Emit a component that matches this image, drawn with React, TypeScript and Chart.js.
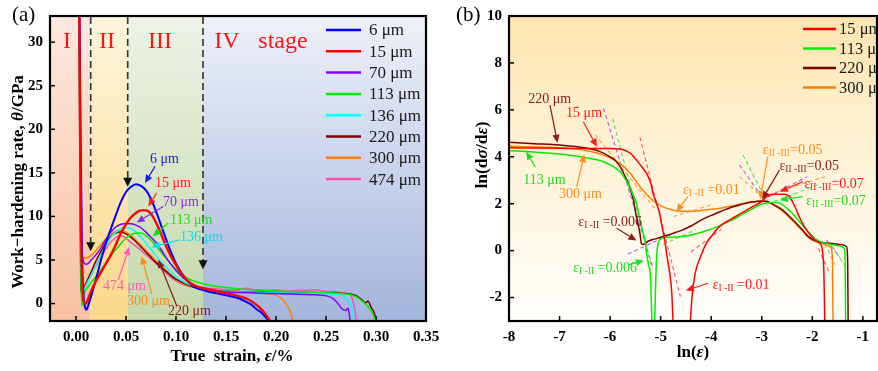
import { useEffect, useRef } from "react";
import { Chart, registerables } from "chart.js";

Chart.register(...registerables);

const SERIF = '"Liberation Serif", "Times New Roman", Times, serif';

type Pt = [number, number];

// ---------- Panel (a): work-hardening rate θ (GPa) vs true strain ----------
const theta6um: Pt[] = [
  [0.003, 40], [0.0045, 20], [0.006, 6], [0.0075, 1], [0.009, -0.4], [0.0105, -0.7], [0.012, -0.3],
  [0.015, 0.8], [0.02, 2.8], [0.025, 5], [0.03, 7], [0.035, 8.6], [0.04, 10.2], [0.045, 11.7],
  [0.05, 12.8], [0.055, 13.4], [0.06, 13.7], [0.065, 13.5], [0.07, 13.0], [0.075, 12.0], [0.08, 10.6],
  [0.085, 9.0], [0.09, 7.4], [0.095, 5.9], [0.1, 4.6], [0.105, 3.6], [0.11, 2.8], [0.115, 2.2],
  [0.12, 1.8], [0.13, 1.45], [0.14, 1.2], [0.15, 0.95], [0.16, 0.7], [0.165, 0.5], [0.17, 0.2],
  [0.175, -0.1], [0.18, -0.6], [0.185, -1.0], [0.19, -1.6], [0.195, -2.3],
];
const theta15um: Pt[] = [
  [0.003, 40], [0.0042, 18], [0.0055, 5], [0.007, 0.9], [0.0085, 0.05], [0.01, 0], [0.012, 0.5],
  [0.015, 1.4], [0.02, 2.6], [0.025, 3.6], [0.03, 4.6], [0.035, 5.6], [0.04, 6.8], [0.045, 8.1],
  [0.05, 9.1], [0.055, 9.9], [0.06, 10.4], [0.065, 10.7], [0.07, 10.7], [0.075, 10.3], [0.08, 9.3],
  [0.085, 8.0], [0.09, 6.6], [0.095, 5.4], [0.1, 4.4], [0.105, 3.5], [0.11, 2.8], [0.115, 2.3],
  [0.12, 2.0], [0.13, 1.7], [0.14, 1.45], [0.15, 1.2], [0.16, 0.95], [0.17, 0.6], [0.175, 0.3],
  [0.18, -0.1], [0.185, -0.6], [0.19, -1.3], [0.196, -2.3],
];
const theta70um: Pt[] = [
  [0.003, 40], [0.0045, 15], [0.006, 6], [0.008, 4.7], [0.01, 4.5], [0.013, 4.7], [0.016, 5.1],
  [0.02, 5.6], [0.025, 6.4], [0.03, 7.4], [0.035, 8.2], [0.04, 8.8], [0.045, 9.1], [0.05, 9.2],
  [0.055, 9.15], [0.06, 9.0], [0.065, 8.7], [0.07, 8.2], [0.075, 7.6], [0.08, 7.0], [0.085, 6.2],
  [0.09, 5.3], [0.095, 4.5], [0.1, 3.8], [0.105, 3.2], [0.11, 2.7], [0.12, 2.0], [0.13, 1.6],
  [0.15, 1.35], [0.2, 1.15], [0.24, 1.0], [0.25, 0.9], [0.257, 0.6], [0.262, 0], [0.266, -0.6],
  [0.27, -0.8], [0.272, -0.5], [0.2745, -2.3],
];
const theta113um: Pt[] = [
  [0.003, 40], [0.004, 15], [0.005, 3], [0.0058, -0.3], [0.007, 0.6], [0.009, 1.4], [0.012, 1.9],
  [0.015, 2.4], [0.02, 3.1], [0.025, 3.9], [0.03, 4.7], [0.035, 5.5], [0.04, 6.2], [0.045, 6.9],
  [0.05, 7.5], [0.055, 7.9], [0.06, 8.1], [0.065, 8.1], [0.07, 7.8], [0.075, 7.3], [0.08, 6.6],
  [0.085, 5.9], [0.09, 5.2], [0.095, 4.5], [0.1, 3.9], [0.105, 3.4], [0.11, 3.0], [0.115, 2.7],
  [0.12, 2.5], [0.13, 2.2], [0.14, 2.0], [0.15, 1.85], [0.175, 1.6], [0.2, 1.45], [0.25, 1.25],
  [0.27, 1.1], [0.28, 0.8], [0.285, 0.4], [0.29, -0.1], [0.295, -0.8], [0.298, -1.5], [0.301, -2.3],
];
const theta136um: Pt[] = [
  [0.003, 40], [0.004, 15], [0.005, 4], [0.006, 1.3], [0.008, 1.6], [0.01, 2.1], [0.015, 3.2],
  [0.02, 4.4], [0.025, 5.6], [0.03, 6.7], [0.035, 7.6], [0.04, 8.2], [0.045, 8.6], [0.05, 8.7],
  [0.055, 8.6], [0.06, 8.2], [0.065, 7.6], [0.07, 6.9], [0.075, 6.2], [0.08, 5.5], [0.085, 4.8],
  [0.09, 4.2], [0.095, 3.6], [0.1, 3.1], [0.105, 2.7], [0.11, 2.35], [0.12, 1.9], [0.13, 1.6],
  [0.15, 1.4], [0.2, 1.25], [0.25, 1.15], [0.265, 1.0], [0.27, 0.7], [0.273, 0.2], [0.276, -0.5],
  [0.2785, -2.3],
];
const theta220um: Pt[] = [
  [0.003, 40], [0.004, 12], [0.0048, 2], [0.0055, 1.2], [0.008, 1.8], [0.01, 2.3], [0.015, 3.6],
  [0.02, 4.9], [0.025, 6.0], [0.03, 7.0], [0.035, 7.7], [0.04, 8.1], [0.045, 8.2], [0.05, 8.0],
  [0.055, 7.6], [0.06, 7.1], [0.065, 6.5], [0.07, 5.9], [0.075, 5.3], [0.08, 4.7], [0.085, 4.2],
  [0.09, 3.7], [0.095, 3.2], [0.1, 2.8], [0.105, 2.5], [0.11, 2.2], [0.12, 1.8], [0.13, 1.55],
  [0.15, 1.4], [0.2, 1.3], [0.25, 1.22], [0.27, 1.15], [0.28, 0.9], [0.285, 0.5], [0.29, 0.1],
  [0.292, 0.3], [0.295, -0.4], [0.298, -1.0], [0.301, -2.3],
];
const theta300um: Pt[] = [
  [0.003, 40], [0.004, 15], [0.005, 6.5], [0.0065, 5.3], [0.009, 5.2], [0.012, 5.3], [0.015, 5.5],
  [0.02, 6.1], [0.025, 6.8], [0.03, 7.4], [0.035, 7.9], [0.04, 8.3], [0.045, 8.4], [0.05, 8.2],
  [0.055, 7.8], [0.06, 7.3], [0.065, 6.7], [0.07, 6.1], [0.075, 5.5], [0.08, 4.9], [0.085, 4.3],
  [0.09, 3.8], [0.095, 3.3], [0.1, 2.8], [0.105, 2.4], [0.11, 2.1], [0.12, 1.8], [0.13, 1.6],
  [0.15, 1.45], [0.18, 1.25], [0.195, 1.1], [0.203, 0.8], [0.208, 0.3], [0.212, -0.4], [0.215, -1.2],
  [0.217, -2.3],
];
const theta474um: Pt[] = [
  [0.003, 40], [0.004, 15], [0.005, 4], [0.006, 1.8], [0.008, 2.0], [0.01, 2.4], [0.015, 3.3],
  [0.02, 4.3], [0.025, 5.3], [0.03, 6.3], [0.035, 7.1], [0.04, 7.6], [0.045, 7.8], [0.05, 7.5],
  [0.055, 7.0], [0.06, 6.6], [0.065, 6.1], [0.07, 5.6], [0.075, 5.1], [0.08, 4.6], [0.085, 4.0],
  [0.09, 3.5], [0.095, 3.0], [0.1, 2.6], [0.105, 2.3], [0.11, 2.1], [0.12, 1.9], [0.13, 1.75],
  [0.14, 1.7], [0.15, 1.6], [0.16, 1.55], [0.17, 1.75], [0.18, 1.55], [0.19, 1.5], [0.2, 1.6],
  [0.21, 1.45], [0.22, 1.5], [0.24, 1.55], [0.25, 1.4], [0.26, 1.35], [0.27, 1.15], [0.275, 0.9],
  [0.277, 0.2], [0.279, -0.8], [0.2805, -2.3],
];

const grainLabelsA = ["6 μm", "15 μm", "70 μm", "113 μm", "136 μm", "220 μm", "300 μm", "474 μm"];
const strainTicks = [0, 0.05, 0.1, 0.15, 0.2, 0.25, 0.3, 0.35];
const thetaTicks = [0, 5, 10, 15, 20, 25, 30];
// stage boundaries (true strain)
const stageBounds = [0.0147, 0.0517, 0.127];
const stageArrowTips = [6.0, 13.4, 3.95];
const stageNames = ["I", "II", "III", "IV", "stage"];
const stageNameX = [-0.009, 0.031, 0.084, 0.151, 0.207];

// ---------- Panel (b): ln(dσ/dε) vs ln(ε) ----------
const lnRate15um: (Pt | null)[] = [
  [-8, 4.38], [-7.5, 4.37], [-7, 4.36], [-6.5, 4.35], [-6, 4.35], [-5.8, 4.33], [-5.6, 4.15],
  [-5.48, 3.86], [-5.38, 3.6], [-5.28, 3.29], [-5.2, 2.9], [-5.15, 2.44], [-5.08, 2.0], [-5.02, 1.59],
  [-4.97, 1.0], [-4.92, 0.45], [-4.87, -0.3], [-4.82, -0.96], [-4.78, -1.8], [-4.75, -3.3],
  null,
  [-4.42, -3.3], [-4.38, -2.0], [-4.32, -1.0], [-4.2, -0.2], [-4.1, 0.3], [-4.0, 0.6], [-3.85, 1.0],
  [-3.6, 1.35], [-3.4, 1.6], [-3.2, 1.85], [-3.0, 2.1], [-2.9, 2.3], [-2.75, 2.4], [-2.55, 2.4],
  [-2.45, 2.3], [-2.35, 1.9], [-2.25, 1.4], [-2.15, 1.0], [-2.05, 0.7], [-1.95, 0.45], [-1.85, 0.3],
  [-1.8, 0.0], [-1.77, -1.0], [-1.75, -3.3],
];
const lnRate113um: (Pt | null)[] = [
  [-8, 4.26], [-7.5, 4.2], [-7, 4.12], [-6.5, 3.97], [-6.13, 3.79], [-5.95, 3.6], [-5.8, 3.36],
  [-5.7, 3.05], [-5.61, 2.72], [-5.55, 2.4], [-5.48, 2.02], [-5.41, 1.31], [-5.36, 0.85],
  [-5.31, 0.46], [-5.28, -0.1], [-5.24, -0.6], [-5.2, -1.2], [-5.17, -3.3],
  null,
  [-5.12, -3.3], [-5.1, -1.5], [-5.08, -0.3], [-5.05, 0.3], [-5.0, 0.5], [-4.9, 0.56], [-4.7, 0.58],
  [-4.5, 0.62], [-4.3, 0.72], [-4.1, 0.85], [-3.9, 1.0], [-3.7, 1.2], [-3.5, 1.4], [-3.3, 1.65],
  [-3.1, 1.88], [-3.0, 1.98], [-2.9, 2.03], [-2.8, 2.05], [-2.7, 2.05], [-2.6, 1.98], [-2.5, 1.8],
  [-2.4, 1.6], [-2.3, 1.35], [-2.2, 1.1], [-2.1, 0.85], [-2.0, 0.62], [-1.9, 0.45], [-1.8, 0.35],
  [-1.6, 0.25], [-1.45, 0.2], [-1.37, 0.1], [-1.35, -0.5], [-1.34, -3.3],
];
const lnRate220um: (Pt | null)[] = [
  [-8, 4.62], [-7.5, 4.56], [-7, 4.5], [-6.5, 4.38], [-6.2, 4.22], [-6.0, 4.0], [-5.9, 3.85],
  [-5.8, 3.57], [-5.7, 3.15], [-5.64, 2.87], [-5.54, 2.16], [-5.48, 1.45], [-5.41, 0.74],
  [-5.38, 0.3], [-5.33, 0.27], [-5.25, 0.4], [-5.1, 0.5], [-4.95, 0.6], [-4.8, 0.7], [-4.6, 0.85],
  [-4.4, 1.05], [-4.2, 1.3], [-4.0, 1.5], [-3.8, 1.68], [-3.6, 1.85], [-3.4, 1.97], [-3.2, 2.07],
  [-3.0, 2.12], [-2.9, 2.1], [-2.8, 2.0], [-2.6, 1.75], [-2.4, 1.35], [-2.2, 0.9], [-2.1, 0.65],
  [-2.0, 0.48], [-1.9, 0.4], [-1.8, 0.35], [-1.6, 0.3], [-1.4, 0.25], [-1.32, 0.15], [-1.3, -0.5],
  [-1.29, -3.3],
];
const lnRate300um: (Pt | null)[] = [
  [-8, 4.45], [-7.5, 4.42], [-7, 4.38], [-6.5, 4.28], [-6.13, 4.07], [-6.0, 3.95], [-5.8, 3.7],
  [-5.6, 3.3], [-5.5, 3.0], [-5.4, 2.7], [-5.3, 2.45], [-5.2, 2.22], [-5.1, 2.05], [-5.0, 1.92],
  [-4.9, 1.82], [-4.8, 1.75], [-4.7, 1.7], [-4.6, 1.68], [-4.4, 1.68], [-4.2, 1.71], [-4.0, 1.76],
  [-3.8, 1.82], [-3.6, 1.9], [-3.4, 2.0], [-3.2, 2.08], [-3.0, 2.1], [-2.9, 2.08], [-2.8, 1.98],
  [-2.6, 1.7], [-2.4, 1.3], [-2.2, 0.85], [-2.1, 0.6], [-2.0, 0.45], [-1.9, 0.35], [-1.8, 0.3],
  [-1.7, 0.22], [-1.63, 0.12], [-1.6, -0.5], [-1.59, -3.3],
];
const grainLabelsB = ["15 μm", "113 μm", "220 μm", "300 μm"];
const lnStrainTicks = [-8, -7, -6, -5, -4, -3, -2, -1];
const lnRateTicks = [-2, 0, 2, 4, 6, 8, 10];

// straight-line fits of the stages, drawn dashed
const fitLines: { key: string; from: Pt; to: Pt }[] = [
  { key: "violet", from: [-6.13, 6.06], to: [-5.15, -0.75] },
  { key: "green", from: [-5.95, 5.63], to: [-5.18, -0.68] },
  { key: "orange", from: [-6.3, 4.95], to: [-5.1, 1.75] },
  { key: "red", from: [-5.41, 4.83], to: [-4.61, -1.96] },
  { key: "violet", from: [-5.65, -0.15], to: [-4.65, 0.85] },
  { key: "green", from: [-4.95, 0.25], to: [-4.3, 0.9] },
  { key: "orange", from: [-4.75, 1.45], to: [-4.0, 1.95] },
  { key: "red", from: [-4.4, -0.05], to: [-3.8, 0.9] },
  { key: "green", from: [-3.37, 4.07], to: [-2.95, 2.3] },
  { key: "violet", from: [-3.44, 3.65], to: [-2.95, 2.15] },
  { key: "orange", from: [-3.44, 3.15], to: [-2.95, 2.2] },
  { key: "violet", from: [-3.0, 2.15], to: [-2.1, 3.15] },
  { key: "orange", from: [-3.0, 2.3], to: [-1.75, 3.15] },
  { key: "green", from: [-2.75, 2.1], to: [-1.9, 2.8] },
  { key: "red", from: [-1.88, 0.1], to: [-1.65, -1.0] },
  { key: "orange", from: [-1.75, 0.3], to: [-1.55, -0.6] },
  { key: "green", from: [-1.6, 0.17], to: [-1.33, -0.74] },
  { key: "violet", from: [-1.72, 0.45], to: [-1.45, -0.3] },
];

// call-out labels (text anchor and arrow in data coordinates)
const calloutsA: { text: string; key: string; at: Pt; from: Pt; to: Pt }[] = [
  { text: "6 μm", key: "blue", at: [0.074, 16.5], from: [0.079, 15.75], to: [0.069, 13.84] },
  { text: "15 μm", key: "red", at: [0.079, 13.76], from: [0.0807, 12.69], to: [0.0723, 11.15] },
  { text: "70 μm", key: "violet", at: [0.087, 11.57], from: [0.0873, 11.15], to: [0.0607, 9.31] },
  { text: "113 μm", key: "green", at: [0.094, 9.51], from: [0.0923, 9.24], to: [0.0767, 7.7] },
  { text: "136 μm", key: "cyan", at: [0.104, 7.55], from: [0.104, 7.32], to: [0.0757, 6.48] },
  { text: "474 μm", key: "pink", at: [0.027, 2.03], from: [0.0423, 2.72], to: [0.0533, 6.48] },
  { text: "300 μm", key: "orange", at: [0.051, 0.31], from: [0.0757, 1.11], to: [0.0657, 5.4] },
  { text: "220 μm", key: "brown", at: [0.092, -0.84], from: [0.1007, -0.26], to: [0.0823, 5.02] },
];
const calloutsB: { text: string; key: string; at: Pt; from: Pt; to: Pt }[] = [
  { text: "220 μm", key: "brown", at: [-7.62, 6.46], from: [-7.19, 6.2], to: [-7.04, 4.6] },
  { text: "15 μm", key: "red", at: [-6.87, 5.86], from: [-6.53, 5.49], to: [-6.26, 4.43] },
  { text: "113 μm", key: "green", at: [-7.72, 3.01], from: [-7.48, 3.57], to: [-7.66, 4.21] },
  { text: "300 μm", key: "orange", at: [-7.01, 2.41], from: [-6.66, 2.72], to: [-6.51, 4.11] },
];
const transitionsB: { sub: string; value: string; key: string; at: Pt; from: Pt; to: Pt }[] = [
  { sub: "I -II", value: " =0.01", key: "orange", at: [-4.56, 2.58], from: [-4.46, 2.3], to: [-4.69, 1.66] },
  { sub: "I -II", value: " =0.006", key: "brown", at: [-6.63, 1.22], from: [-5.87, 0.95], to: [-5.48, 0.43] },
  { sub: "I -II", value: " =0.006", key: "green", at: [-6.73, -0.74], from: [-5.64, -0.61], to: [-5.33, -0.43] },
  { sub: "I -II", value: " =0.01", key: "red", at: [-3.97, -1.46], from: [-4.06, -1.39], to: [-4.5, -1.7] },
  { sub: "II -III", value: "=0.05", key: "orange", at: [-2.98, 4.29], from: [-2.88, 4.0], to: [-3.03, 2.19] },
  { sub: "II -III", value: "=0.05", key: "brown", at: [-2.65, 3.6], from: [-2.65, 3.43], to: [-2.99, 2.19] },
  { sub: "II -III", value: "=0.07", key: "red", at: [-2.16, 2.84], from: [-2.19, 2.94], to: [-2.64, 2.51] },
  { sub: "II -III", value: "=0.07", key: "green", at: [-2.12, 2.12], from: [-2.19, 2.3], to: [-2.64, 2.16] },
];

// ---------- styles ----------
const lineColor: Record<string, string> = {
  blue: "#0000ff", red: "#ff0000", violet: "#8000ff", green: "#00ee00",
  cyan: "#00ffff", brown: "#7a0000", orange: "#ff8000", pink: "#ff4fae",
};
const textColor: Record<string, string> = {
  blue: "#1a1aee", red: "#ff1a1a", violet: "#8a2be2", green: "#1fdc1f",
  cyan: "#00e0f0", brown: "#8b1a1a", orange: "#ff8c1a", pink: "#ff5cb0",
};
const fitColor: Record<string, string> = {
  violet: "#b060d8", green: "#55e055", orange: "#ffa040", red: "#ff5070",
};
const stageFill = [
  ["#fde9df", "#f7c1a1"],
  ["#fef6de", "#fbd889"],
  ["#eef3e6", "#c4d8ab"],
  ["#eef1f9", "#a4b5dc"],
];

type Run = { text: string; size: number; bold?: boolean; italic?: boolean; dy?: number };

function font(r: Run) {
  return `${r.italic ? "italic " : ""}${r.bold ? "bold " : ""}${r.size}px ${SERIF}`;
}

function drawRuns(ctx: CanvasRenderingContext2D, runs: Run[], x: number, y: number, align: "left" | "center") {
  let w = 0;
  for (const r of runs) {
    ctx.font = font(r);
    w += ctx.measureText(r.text).width;
  }
  let cx = align === "center" ? x - w / 2 : x;
  ctx.textAlign = "left";
  ctx.textBaseline = "middle";
  for (const r of runs) {
    ctx.font = font(r);
    ctx.fillText(r.text, cx, y + (r.dy || 0));
    cx += ctx.measureText(r.text).width;
  }
}

function arrow(ctx: CanvasRenderingContext2D, x1: number, y1: number, x2: number, y2: number, color: string, head = 8, half = 3.6, lw = 1.2) {
  const ang = Math.atan2(y2 - y1, x2 - x1);
  const bx = x2 - head * Math.cos(ang);
  const by = y2 - head * Math.sin(ang);
  ctx.save();
  ctx.strokeStyle = color;
  ctx.fillStyle = color;
  ctx.lineWidth = lw;
  ctx.setLineDash([]);
  ctx.beginPath();
  ctx.moveTo(x1, y1);
  ctx.lineTo(bx, by);
  ctx.stroke();
  ctx.beginPath();
  ctx.moveTo(x2, y2);
  ctx.lineTo(bx + half * Math.sin(ang), by - half * Math.cos(ang));
  ctx.lineTo(bx - half * Math.sin(ang), by + half * Math.cos(ang));
  ctx.closePath();
  ctx.fill();
  ctx.restore();
}

function toXY(points: (Pt | null)[]) {
  return points.map((p, i) => {
    if (p) return { x: p[0], y: p[1] as number | null };
    const prev = points[i - 1] as Pt;
    const next = points[i + 1] as Pt;
    return { x: (prev[0] + next[0]) / 2, y: null };
  });
}

function frameAndTicks(chart: any) {
  const { ctx, chartArea: a, scales } = chart;
  ctx.save();
  ctx.strokeStyle = "#000";
  ctx.lineWidth = 1.5;
  ctx.setLineDash([]);
  for (const t of scales.x.ticks) {
    const px = scales.x.getPixelForValue(t.value);
    ctx.beginPath();
    ctx.moveTo(px, a.bottom);
    ctx.lineTo(px, a.bottom - 5);
    ctx.stroke();
  }
  for (const t of scales.y.ticks) {
    const py = scales.y.getPixelForValue(t.value);
    ctx.beginPath();
    ctx.moveTo(a.left, py);
    ctx.lineTo(a.left + 5, py);
    ctx.stroke();
  }
  ctx.lineWidth = 2.2;
  ctx.strokeRect(a.left, a.top, a.right - a.left, a.bottom - a.top);
  ctx.restore();
}

function axisOptions(min: number, max: number, values: number[], size: number, horizontal: boolean, fmt: (v: number) => string) {
  return {
    type: "linear" as const,
    min,
    max,
    afterBuildTicks: (s: any) => {
      s.ticks = values.map((value) => ({ value }));
    },
    afterFit: (s: any) => {
      if (horizontal) s.height = size;
      else s.width = size;
      s.paddingLeft = 0;
      s.paddingRight = 0;
      s.paddingTop = 0;
      s.paddingBottom = 0;
    },
    grid: { display: false, drawTicks: false },
    border: { display: false },
    ticks: {
      autoSkip: false,
      maxRotation: 0,
      padding: horizontal ? 7 : 7,
      color: "#000",
      font: { family: SERIF, size: 15, weight: "bold" as const },
      callback: (v: any) => fmt(Number(v)),
    },
  };
}

function buildConfigA(): any {
  const series = [theta6um, theta15um, theta70um, theta113um, theta136um, theta220um, theta300um, theta474um];
  const keys = ["blue", "red", "violet", "green", "cyan", "brown", "orange", "pink"];
  const widths = [2, 2.4, 1.5, 1.5, 1.5, 1.5, 1.5, 1.5];
  const order = [1, 0, 2, 3, 4, 5, 6, 7];
  const datasets = series.map((pts, i) => ({
    label: grainLabelsA[i],
    data: toXY(pts),
    borderColor: lineColor[keys[i]],
    borderWidth: widths[i],
    pointRadius: 0,
    fill: false,
    cubicInterpolationMode: "monotone",
    spanGaps: false,
    clip: 0,
    order: order[i],
  }));

  const plugin = {
    id: "panelA",
    beforeDatasetsDraw(chart: any) {
      const { ctx, chartArea: a, scales } = chart;
      const xs = [a.left, ...stageBounds.map((v) => scales.x.getPixelForValue(v)), a.right];
      ctx.save();
      for (let i = 0; i < 4; i++) {
        const g = ctx.createLinearGradient(0, a.top, 0, a.bottom);
        g.addColorStop(0, stageFill[i][0]);
        g.addColorStop(1, stageFill[i][1]);
        ctx.fillStyle = g;
        ctx.fillRect(xs[i], a.top, xs[i + 1] - xs[i], a.bottom - a.top);
      }
      // stage boundaries
      stageBounds.forEach((v, i) => {
        const px = scales.x.getPixelForValue(v);
        const tip = scales.y.getPixelForValue(stageArrowTips[i]);
        ctx.strokeStyle = "#333";
        ctx.lineWidth = 1.6;
        ctx.setLineDash([7, 4]);
        ctx.beginPath();
        ctx.moveTo(px, a.top + 1);
        ctx.lineTo(px, tip - 8);
        ctx.stroke();
        ctx.setLineDash([]);
        ctx.fillStyle = "#111";
        ctx.beginPath();
        ctx.moveTo(px, tip);
        ctx.lineTo(px - 4.5, tip - 9);
        ctx.lineTo(px + 4.5, tip - 9);
        ctx.closePath();
        ctx.fill();
      });
      // stage names
      ctx.fillStyle = "#ff1414";
      ctx.textAlign = "center";
      ctx.textBaseline = "middle";
      ctx.font = `24px ${SERIF}`;
      stageNames.forEach((n, i) => {
        ctx.fillText(n, scales.x.getPixelForValue(stageNameX[i]), scales.y.getPixelForValue(30.1));
      });
      ctx.restore();
    },
    afterDatasetsDraw(chart: any) {
      const { ctx, chartArea: a, scales } = chart;
      const X = (v: number) => scales.x.getPixelForValue(v);
      const Y = (v: number) => scales.y.getPixelForValue(v);
      ctx.save();
      for (const c of calloutsA) {
        arrow(ctx, X(c.from[0]), Y(c.from[1]), X(c.to[0]), Y(c.to[1]), textColor[c.key]);
        ctx.fillStyle = textColor[c.key];
        drawRuns(ctx, [{ text: c.text, size: 14 }], X(c.at[0]), Y(c.at[1]), "left");
      }
      // legend
      grainLabelsA.forEach((lab, i) => {
        const y = 30 + i * 21.3;
        ctx.strokeStyle = lineColor[keys[i]];
        ctx.lineWidth = 2.5;
        ctx.beginPath();
        ctx.moveTo(326, y);
        ctx.lineTo(361, y);
        ctx.stroke();
        ctx.fillStyle = "#1a1a1a";
        drawRuns(ctx, [{ text: lab, size: 17 }], 369, y + 1, "left");
      });
      ctx.restore();
      frameAndTicks(chart);
      // axis titles and panel tag
      ctx.save();
      ctx.fillStyle = "#000";
      drawRuns(ctx, [{ text: "(a)", size: 21 }], 12, 15, "left");
      drawRuns(
        ctx,
        [
          { text: "True  strain, ", size: 17, bold: true },
          { text: "ε", size: 17, bold: true, italic: true },
          { text: "/%", size: 17, bold: true },
        ],
        232,
        357,
        "center"
      );
      ctx.translate(19, 182);
      ctx.rotate(-Math.PI / 2);
      drawRuns(
        ctx,
        [
          { text: "Work−hardening rate, ", size: 17, bold: true },
          { text: "θ", size: 17, bold: true, italic: true },
          { text: "/GPa", size: 17, bold: true },
        ],
        0,
        0,
        "center"
      );
      ctx.restore();
    },
  };

  return {
    type: "line",
    data: { datasets },
    options: {
      responsive: false,
      animation: false,
      events: [],
      layout: { padding: { left: 0, top: 16, right: 14, bottom: 0 } },
      plugins: { legend: { display: false }, tooltip: { enabled: false } },
      scales: {
        x: axisOptions(-0.026, 0.35, strainTicks, 50, true, (v) => v.toFixed(2)),
        y: axisOptions(-2, 33, thetaTicks, 50, false, (v) => String(v)),
      },
    },
    plugins: [plugin],
  };
}

function buildConfigB(): any {
  const series = [lnRate15um, lnRate113um, lnRate220um, lnRate300um];
  const keys = ["red", "green", "brown", "orange"];
  const curves = series.map((pts, i) => ({
    label: grainLabelsB[i],
    data: toXY(pts),
    borderColor: lineColor[keys[i]],
    borderWidth: 1.5,
    pointRadius: 0,
    fill: false,
    cubicInterpolationMode: "monotone",
    spanGaps: false,
    clip: 0,
    order: i,
  }));
  const fits = fitLines.map((f) => ({
    label: "fit",
    data: [
      { x: f.from[0], y: f.from[1] },
      { x: f.to[0], y: f.to[1] },
    ],
    borderColor: fitColor[f.key],
    borderWidth: 1.1,
    borderDash: [4, 3],
    pointRadius: 0,
    fill: false,
    tension: 0,
    clip: 0,
    order: 10,
  }));

  const plugin = {
    id: "panelB",
    beforeDatasetsDraw(chart: any) {
      const { ctx, chartArea: a } = chart;
      ctx.save();
      const g = ctx.createLinearGradient(0, a.top, 0, a.bottom);
      g.addColorStop(0, "#fde5ae");
      g.addColorStop(0.45, "#fef2d6");
      g.addColorStop(1, "#fffefb");
      ctx.fillStyle = g;
      ctx.fillRect(a.left, a.top, a.right - a.left, a.bottom - a.top);
      ctx.restore();
    },
    afterDatasetsDraw(chart: any) {
      const { ctx, chartArea: a, scales } = chart;
      const X = (v: number) => scales.x.getPixelForValue(v);
      const Y = (v: number) => scales.y.getPixelForValue(v);
      ctx.save();
      for (const c of calloutsB) {
        arrow(ctx, X(c.from[0]), Y(c.from[1]), X(c.to[0]), Y(c.to[1]), textColor[c.key]);
        ctx.fillStyle = textColor[c.key];
        drawRuns(ctx, [{ text: c.text, size: 14 }], X(c.at[0]), Y(c.at[1]), "left");
      }
      for (const t of transitionsB) {
        arrow(ctx, X(t.from[0]), Y(t.from[1]), X(t.to[0]), Y(t.to[1]), textColor[t.key]);
        ctx.fillStyle = textColor[t.key];
        drawRuns(
          ctx,
          [
            { text: "ε", size: 14 },
            { text: t.sub, size: 9.5, dy: 3.5 },
            { text: t.value, size: 14 },
          ],
          X(t.at[0]),
          Y(t.at[1]),
          "left"
        );
      }
      // legend
      grainLabelsB.forEach((lab, i) => {
        const y = 29 + i * 19.5;
        ctx.strokeStyle = lineColor[keys[i]];
        ctx.lineWidth = 2.5;
        ctx.beginPath();
        ctx.moveTo(363, y);
        ctx.lineTo(396, y);
        ctx.stroke();
        ctx.fillStyle = "#1a1a1a";
        drawRuns(ctx, [{ text: lab, size: 16.5 }], 399, y + 1, "left");
      });
      ctx.restore();
      frameAndTicks(chart);
      ctx.save();
      ctx.fillStyle = "#000";
      drawRuns(ctx, [{ text: "(b)", size: 21 }], 16, 15, "left");
      drawRuns(
        ctx,
        [
          { text: "ln(", size: 17, bold: true },
          { text: "ε", size: 17, bold: true, italic: true },
          { text: ")", size: 17, bold: true },
        ],
        (a.left + a.right) / 2,
        353,
        "center"
      );
      ctx.translate(42, 155);
      ctx.rotate(-Math.PI / 2);
      drawRuns(
        ctx,
        [
          { text: "ln(d", size: 17.5, bold: true },
          { text: "σ", size: 17.5, bold: true, italic: true },
          { text: "/d", size: 17.5, bold: true },
          { text: "ε", size: 17.5, bold: true, italic: true },
          { text: ")", size: 17.5, bold: true },
        ],
        0,
        0,
        "center"
      );
      ctx.restore();
    },
  };

  return {
    type: "line",
    data: { datasets: [...curves, ...fits] },
    options: {
      responsive: false,
      animation: false,
      events: [],
      layout: { padding: { left: 0, top: 16, right: 1, bottom: 0 } },
      plugins: { legend: { display: false }, tooltip: { enabled: false } },
      scales: {
        x: axisOptions(-8, -0.72, lnStrainTicks, 50, true, (v) => String(v)),
        y: axisOptions(-3, 10, lnRateTicks, 69, false, (v) => String(v)),
      },
    },
    plugins: [plugin],
  };
}

export default function App() {
  const refA = useRef<HTMLCanvasElement>(null);
  const refB = useRef<HTMLCanvasElement>(null);

  useEffect(() => {
    const a = new Chart(refA.current as HTMLCanvasElement, buildConfigA());
    const b = new Chart(refB.current as HTMLCanvasElement, buildConfigB());
    return () => {
      a.destroy();
      b.destroy();
    };
  }, []);

  return (
    <div style={{ position: "fixed", left: 0, top: 0, width: 878, height: 371, background: "#fff", overflow: "hidden" }}>
      <canvas ref={refA} width={440} height={371} style={{ position: "absolute", left: 0, top: 0 }} />
      <canvas ref={refB} width={438} height={371} style={{ position: "absolute", left: 440, top: 0 }} />
    </div>
  );
}
